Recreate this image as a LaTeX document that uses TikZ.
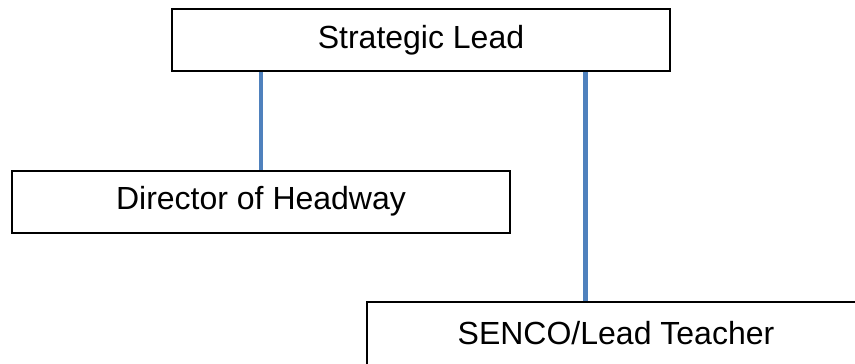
\documentclass[tikz,border=0pt]{standalone}
\usepackage{fontspec}
\setmainfont{Liberation Sans}
\usepackage{pgf,tikz}
\usetikzlibrary{positioning}
\definecolor{officeblue}{RGB}{79,129,189}
\tikzstyle{rolebox} = [draw=black, line width=2pt, rectangle, minimum width=498pt, minimum height=62pt, inner sep=0pt, font=\fontsize{32pt}{38pt}\selectfont]
\tikzstyle{link} = [draw=officeblue, line width=4.5pt]

\begin{document}
\begin{tikzpicture}[x=1pt, y=-1pt]
	\useasboundingbox (0,0) rectangle (855,364);
	\node [rolebox] (lead) at (421,40) {Strategic Lead};
	\node [rolebox] (director) at (261,201.5) {Director of Headway};
	\node [rolebox, minimum height=63pt] (senco) at (616,333.5) {SENCO/Lead Teacher};
	\draw [link] (lead.south -| director.north) -- (director.north);
	\draw [link] ([xshift=-30.5pt]senco.north |- lead.south) -- ([xshift=-30.5pt]senco.north);
\end{tikzpicture}
\end{document}
